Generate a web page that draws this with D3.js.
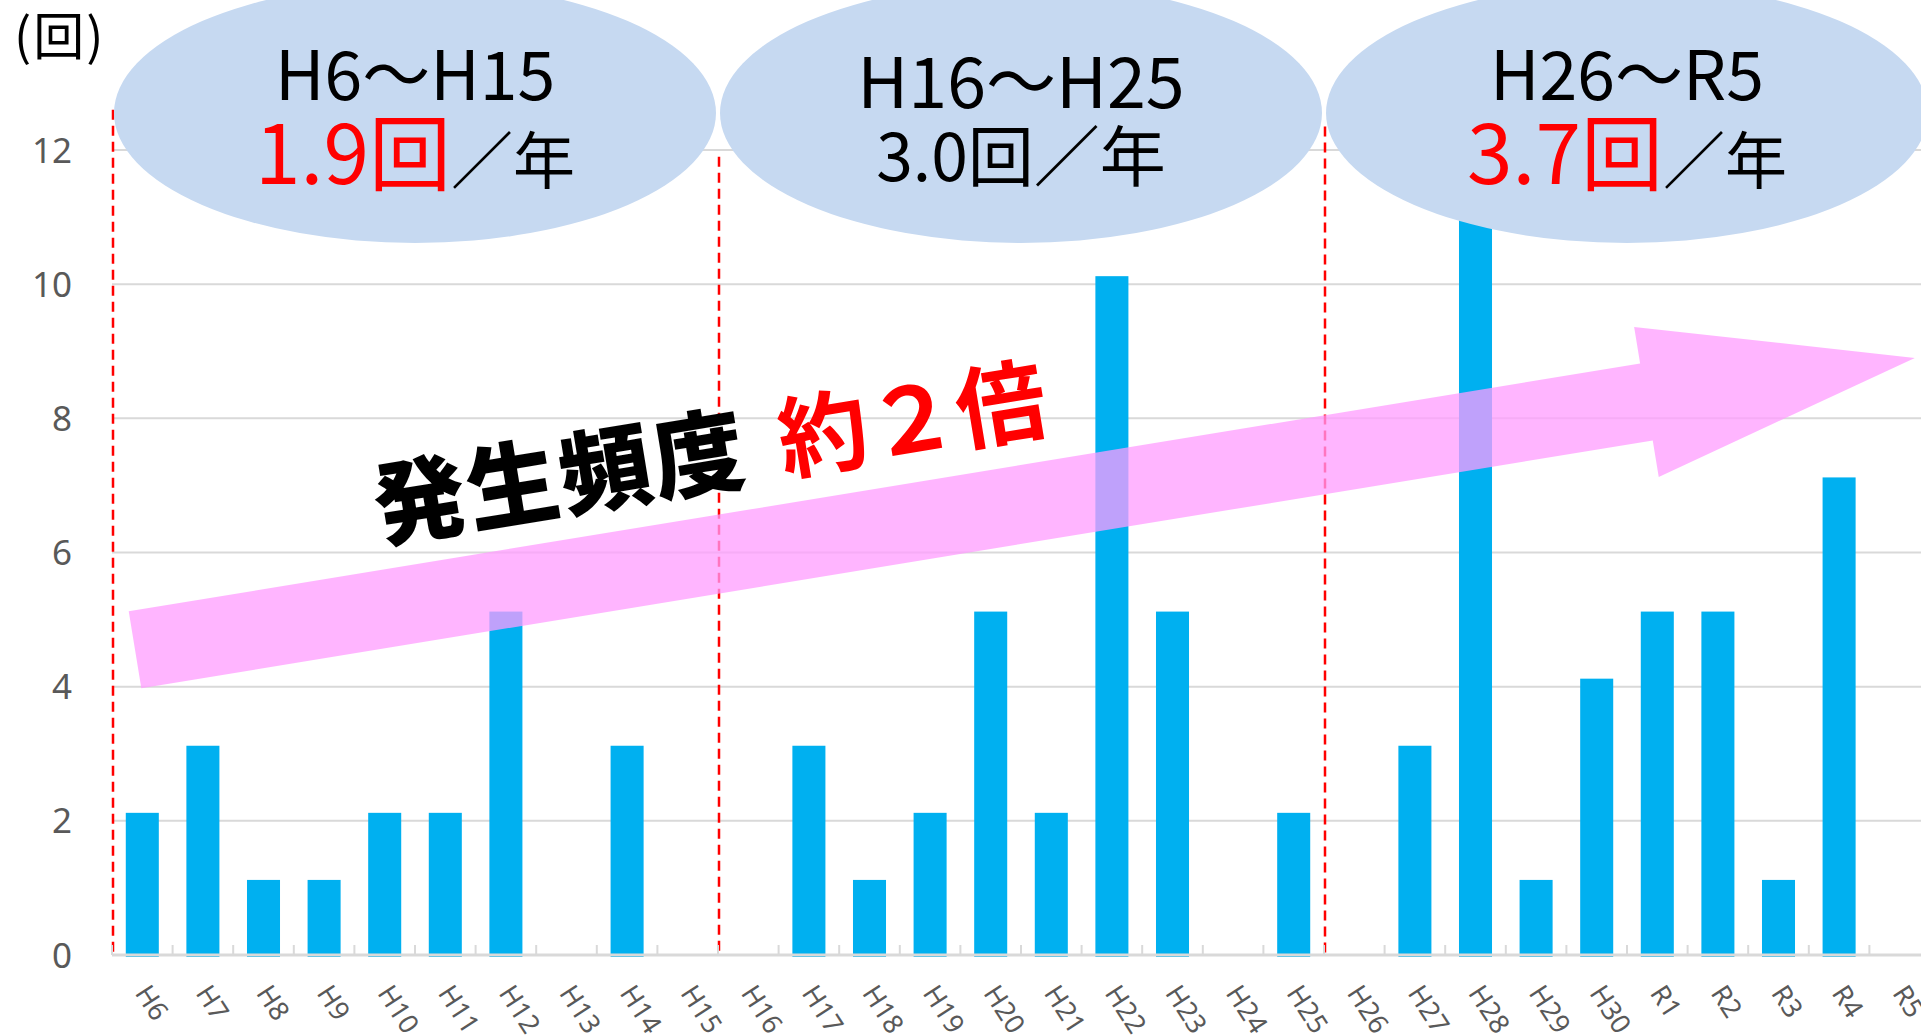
<!DOCTYPE html>
<html>
<head>
<meta charset="utf-8">
<script src="https://cdn.jsdelivr.net/npm/d3@7"></script>
<style>
  body { margin: 0; background: #fff; }
  svg { display: block; }
</style>
</head>
<body>
<svg id="chart"></svg>
<script>
// data
const years = ["H6", "H7", "H8", "H9", "H10", "H11", "H12", "H13", "H14", "H15",
               "H16", "H17", "H18", "H19", "H20", "H21", "H22", "H23", "H24", "H25",
               "H26", "H27", "H28", "H29", "H30", "R1", "R2", "R3", "R4", "R5"];
const counts = [2, 3, 1, 1, 2, 2, 5, 0, 3, 0,
                0, 3, 1, 2, 5, 2, 10, 5, 0, 2,
                0, 3, 11, 1, 4, 5, 5, 1, 7, 0];
const yTicks = [0, 2, 4, 6, 8, 10, 12];
const periodStart = [0, 10, 20];          // index of first year in each period
const periodLabels = ["H6～H15", "H16～H25", "H26～R5"];
const periodRates = ["1.9", "3.0", "3.7"];
const periodHighlight = [true, false, true];

const width = 1921;
const height = 1036;
const margin = { top: 150, left: 112, bottom: 955 };

const svg = d3.select("#chart")
    .attr("width", width)
    .attr("height", height);

// scales
const step = 60.6;
const x = d3.scaleBand()
    .domain(years)
    .range([margin.left, margin.left + years.length * step])
    .paddingInner(0.455)
    .paddingOuter(0.2275);

const y = d3.scaleLinear()
    .domain([0, 12])
    .range([margin.bottom, margin.top]);

// bars in the picture sit a few pixels above the gridlines
const yBar = d3.scaleLinear()
    .domain([0, 12])
    .range([margin.bottom - 8, margin.top - 8]);

const bandX = i => margin.left + i * step;   // boundary before year i

// gridlines
svg.append("g")
    .selectAll("line")
    .data(yTicks.filter(d => d > 0))
    .enter().append("line")
    .attr("x1", margin.left)
    .attr("x2", width)
    .attr("y1", d => y(d))
    .attr("y2", d => y(d))
    .attr("stroke", "#d9d9d9")
    .attr("stroke-width", 2);

// period divider lines (red dashed)
const dividerTop = [12.6, 11.9, 12.35];
svg.append("g")
    .selectAll("line")
    .data(periodStart)
    .enter().append("line")
    .attr("x1", d => bandX(d) + 1)
    .attr("x2", d => bandX(d) + 1)
    .attr("y1", (d, i) => y(dividerTop[i]))
    .attr("y2", y(0))
    .attr("stroke", "#ff0000")
    .attr("stroke-width", 2.5)
    .attr("stroke-dasharray", "10,6");

// bars
svg.append("g")
    .selectAll("rect")
    .data(counts)
    .enter().append("rect")
    .attr("x", (d, i) => x(years[i]))
    .attr("width", x.bandwidth())
    .attr("y", d => yBar(d))
    .attr("height", d => d > 0 ? y(0) + 2 - yBar(d) : 0)
    .attr("fill", "#00b0f0");

// x axis line and tick marks
svg.append("line")
    .attr("x1", margin.left)
    .attr("x2", width)
    .attr("y1", y(0))
    .attr("y2", y(0))
    .attr("stroke", "#d9d9d9")
    .attr("stroke-width", 3);

svg.append("g")
    .selectAll("line")
    .data(d3.range(years.length + 1))
    .enter().append("line")
    .attr("x1", d => bandX(d))
    .attr("x2", d => bandX(d))
    .attr("y1", y(0) - 10)
    .attr("y2", y(0))
    .attr("stroke", "#d9d9d9")
    .attr("stroke-width", 2);

// y labels
svg.append("g")
    .selectAll("text")
    .data(yTicks)
    .enter().append("text")
    .attr("x", 72)
    .attr("y", d => y(d))
    .attr("dy", "0.36em")
    .attr("text-anchor", "end")
    .attr("font-family", "'Noto Sans', sans-serif")
    .attr("font-size", 35)
    .attr("fill", "#595959")
    .text(d => d);

// x labels, rotated
svg.append("g")
    .selectAll("text")
    .data(years)
    .enter().append("text")
    .attr("transform", d => `translate(${x(d) + x.bandwidth() / 2 - 8}, 993) rotate(57)`)
    .attr("font-family", "'Noto Sans', sans-serif")
    .attr("font-size", 27)
    .attr("fill", "#595959")
    .text(d => d);

// y axis title
svg.append("text")
    .attr("x", 14)
    .attr("y", 55)
    .attr("font-family", "'Noto Sans CJK JP', sans-serif")
    .attr("font-size", 51)
    .attr("letter-spacing", 2)
    .attr("fill", "#000")
    .text("(回)");

// pink trend arrow (in band-index / value units)
const arrowFrom = [0.38, 4.55];
const arrowTo = [29.75, 8.9];
const shaftW = 78, headW = 152, headLen = 272;
const L = [bandX(arrowFrom[0]), y(arrowFrom[1])];
const T = [bandX(arrowTo[0]), y(arrowTo[1])];
const len = Math.hypot(T[0] - L[0], T[1] - L[1]);
const e = [(T[0] - L[0]) / len, (T[1] - L[1]) / len];
const n = [e[1], -e[0]];
const B = [T[0] - e[0] * headLen, T[1] - e[1] * headLen];
const pt = (p, k) => [p[0] + n[0] * k, p[1] + n[1] * k];
const arrowPts = [pt(L, shaftW / 2), pt(B, shaftW / 2), pt(B, headW / 2), T,
                  pt(B, -headW / 2), pt(B, -shaftW / 2), pt(L, -shaftW / 2)];

svg.append("path")
    .attr("d", d3.line()(arrowPts) + "Z")
    .attr("fill", "#ff9cff")
    .attr("fill-opacity", 0.75);

const angle = Math.atan2(e[1], e[0]) * 180 / Math.PI;

// period ellipses
const ellipses = svg.append("g")
    .selectAll("g")
    .data(periodStart)
    .enter().append("g")
    .attr("transform", d => `translate(${(bandX(d) + bandX(d + 10)) / 2}, 113)`);

ellipses.append("ellipse")
    .attr("rx", 301)
    .attr("ry", 130)
    .attr("fill", "#c6d9f1");

ellipses.append("text")
    .attr("y", (d, i) => i === 1 ? -5 : -13)
    .attr("text-anchor", "middle")
    .attr("font-family", "'Noto Sans CJK JP', sans-serif")
    .attr("font-size", (d, i) => i === 1 ? 70 : 68)
    .attr("fill", "#000")
    .text((d, i) => periodLabels[i]);

const line2 = ellipses.append("text")
    .attr("y", (d, i) => i === 1 ? 68 : 71)
    .attr("text-anchor", "middle")
    .attr("font-family", "'Noto Sans CJK JP', sans-serif");

line2.append("tspan")
    .attr("font-size", (d, i) => periodHighlight[i] ? 82 : 66)
    .attr("fill", (d, i) => periodHighlight[i] ? "#ff0000" : "#000")
    .text((d, i) => periodRates[i] + "回");

line2.append("tspan")
    .attr("font-size", (d, i) => periodHighlight[i] ? 62 : 66)
    .attr("fill", "#000")
    .text("／年");

// annotation text
svg.append("text")
    .attr("transform", `translate(560, 478) rotate(${angle})`)
    .attr("text-anchor", "middle")
    .attr("dy", "0.36em")
    .attr("font-family", "'Noto Sans CJK JP', sans-serif")
    .attr("font-weight", 900)
    .attr("font-size", 92)
    .attr("letter-spacing", 2)
    .attr("fill", "#000")
    .text("発生頻度");

svg.append("text")
    .attr("transform", `translate(912, 420) rotate(${angle})`)
    .attr("text-anchor", "middle")
    .attr("dy", "0.36em")
    .attr("font-family", "'Noto Sans CJK JP', sans-serif")
    .attr("font-weight", 700)
    .attr("font-size", 90)
    .attr("fill", "#ff0000")
    .text("約２倍");
</script>
</body>
</html>
